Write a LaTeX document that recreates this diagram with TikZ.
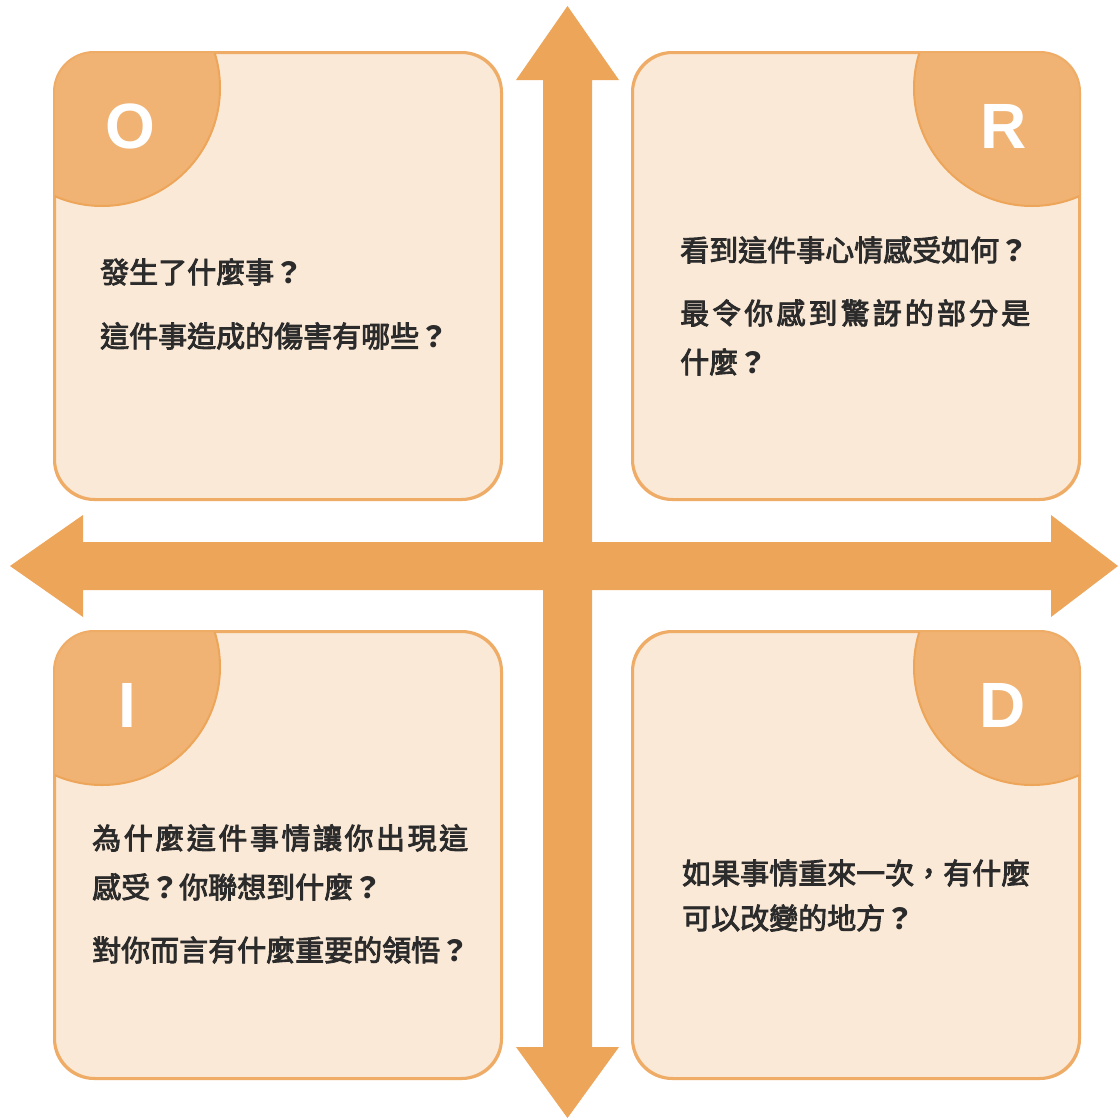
\documentclass[tikz,border=0pt]{standalone}
\usepackage{fontspec}
\newfontfamily\cjkfont{Noto Sans CJK TC}[FakeBold=3]
\newfontfamily\cjkbold{Noto Sans CJK TC}
\newfontfamily\labfont{Liberation Sans}
\definecolor{arrowc}{HTML}{EDA55A}
\definecolor{circc}{HTML}{F0B373}
\definecolor{boxfill}{HTML}{FBE9D7}
\definecolor{boxline}{HTML}{EFAC66}
\definecolor{txtc}{HTML}{2B2B2B}
\newcommand\spread[2]{\makebox[#1][l]{#2}}
\newcommand\qm{{\cjkbold\bfseries ？}}
\tikzset{
  qbox/.style={draw=boxline, line width=2pt, fill=boxfill, rounded corners=40pt,
    minimum width=446pt, minimum height=446pt, inner sep=0pt},
  qcirc/.style={fill=circc, draw=arrowc, line width=2pt},
  qtxt/.style={font=\cjkfont\fontsize{29}{29}\selectfont, text=txtc, anchor=base west, inner sep=0pt},
  qlab/.style={font=\labfont\bfseries\fontsize{64}{64}\selectfont, text=white, anchor=center, inner sep=0pt},
  bigarrow/.style={fill=arrowc, draw=none}
}
\begin{document}
\begin{tikzpicture}[x=1pt,y=-1pt]
\useasboundingbox[fill=white] (0,0) rectangle (1120,1120);
% arrows
\coordinate (vt) at (567.5,6);
\coordinate (vb) at (567.5,1118);
\coordinate (hl) at (10,566);
\coordinate (hr) at (1118,566);
\fill[bigarrow] (vt) -- (619,80) -- (592,80) -- (592,1047) -- (619,1047) -- (vb)
  -- (516,1047) -- (543,1047) -- (543,80) -- (516,80) -- cycle;
\fill[bigarrow] (hl) -- (83,515) -- (83,542) -- (1051,542) -- (1051,515) -- (hr)
  -- (1051,617) -- (1051,590) -- (83,590) -- (83,617) -- cycle;
% boxes
\node[qbox] (bO) at (278,276) {};
\node[qbox] (bR) at (856,276) {};
\node[qbox] (bI) at (278,855) {};
\node[qbox] (bD) at (856,855) {};
\foreach \b/\cx/\cy in {bO/102/88, bR/1032/88, bI/102/667, bD/1032/667}{
  \begin{scope}
    \clip[rounded corners=40pt] (\b.south west) rectangle (\b.north east);
    \draw[qcirc] (\cx,\cy) circle[radius=118pt];
  \end{scope}
  \draw[draw=boxline, line width=2pt, rounded corners=40pt] (\b.south west) rectangle (\b.north east);
}
% letters
\node[qlab] (lO) at (130,126) {O};
\node[qlab] (lR) at (1004,126) {R};
\node[qlab] (lI) at (127,705) {I};
\node[qlab] (lD) at (1003,705) {D};
% texts
\node[qtxt] (o1) at (100,283) {發生了什麼事\qm};
\node[qtxt] (o2) at (100,347) {這件事造成的傷害有哪些\qm};
\node[qtxt] (r1) at (680,261) {看到這件事心情感受如何\qm};
\node[qtxt] (r2) at (680,324) {\spread{350pt}{最\hfill 令\hfill 你\hfill 感\hfill 到\hfill 驚\hfill 訝\hfill 的\hfill 部\hfill 分\hfill 是}};
\node[qtxt] (r3) at (680,373) {什麼\qm};
\node[qtxt] (i1) at (92,849) {\spread{376pt}{為\hfill 什\hfill 麼\hfill 這\hfill 件\hfill 事\hfill 情\hfill 讓\hfill 你\hfill 出\hfill 現\hfill 這}};
\node[qtxt] (i2) at (92,898) {感受\qm 你聯想到什麼\qm};
\node[qtxt] (i3) at (92,961) {對你而言有什麼重要的領悟\qm};
\node[qtxt] (d1) at (682,884) {如果事情重來一次，有什麼};
\node[qtxt] (d2) at (682,929) {可以改變的地方\qm};
\end{tikzpicture}
\end{document}
